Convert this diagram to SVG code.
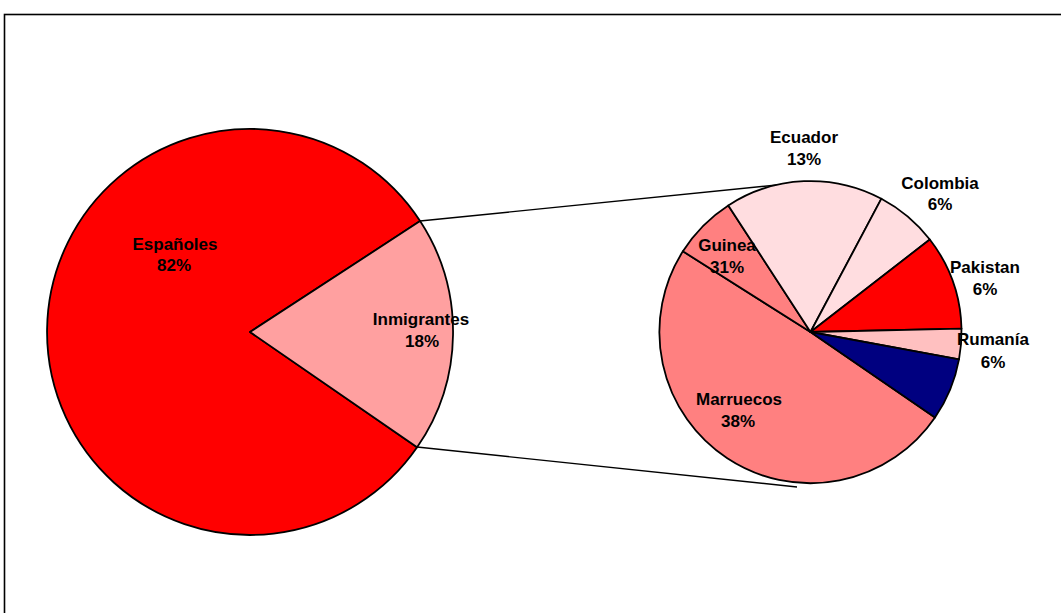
<svg xmlns="http://www.w3.org/2000/svg" width="1061" height="613" viewBox="0 0 1061 613">
<style>
.s{stroke:#000;stroke-width:1.8;stroke-linejoin:round}
.t{font-family:"Liberation Sans",Arial,sans-serif;font-weight:bold;font-size:17px;fill:#000;text-anchor:middle}
.c{stroke:#000;stroke-width:1.4;fill:none}
</style>
<rect x="0" y="0" width="1061" height="613" fill="#fff"/>
<rect x="4.5" y="14.5" width="1100" height="700" fill="none" stroke="#000" stroke-width="1.6"/>
<g id="connectors">
<line class="c" x1="420" y1="221" x2="797" y2="183"/>
<line class="c" x1="417" y1="447" x2="797" y2="487"/>
</g>
<g id="espanoles">
<path class="s" fill="#FF0000" d="M250,332 L420.1,221.1 A203,203 0 1 0 417.1,447.3 Z"/>
<text class="t" x="175" y="250">Españoles</text>
<text class="t" x="174" y="271">82%</text>
</g>
<g id="inmigrantes">
<path class="s" fill="#FFA0A0" d="M250,332 L417.1,447.3 A203,203 0 0 0 420.1,221.1 Z"/>
<text class="t" x="421" y="325">Inmigrantes</text>
<text class="t" x="422" y="347">18%</text>
</g>
<g id="marruecos">
<path class="s" fill="#FF8080" d="M810.5,332 L682.9,251.3 A151,151 0 0 0 935,417.5 Z"/>
</g>
<g id="guinea">
<path class="s" fill="#FF8080" d="M810.5,332 L728.3,205.4 A151,151 0 0 0 682.9,251.3 Z"/>
</g>
<g id="ecuador">
<path class="s" fill="#FFDDE0" d="M810.5,332 L881.4,198.7 A151,151 0 0 0 728.3,205.4 Z"/>
<text class="t" x="804" y="143">Ecuador</text>
<text class="t" x="804" y="165">13%</text>
</g>
<g id="colombia">
<path class="s" fill="#FFDDE0" d="M810.5,332 L929.8,239.5 A151,151 0 0 0 881.4,198.7 Z"/>
<text class="t" x="940" y="189">Colombia</text>
<text class="t" x="940" y="210">6%</text>
</g>
<g id="pakistan">
<path class="s" fill="#FF0000" d="M810.5,332 L961.5,328.6 A151,151 0 0 0 929.8,239.5 Z"/>
<text class="t" x="985" y="273">Pakistan</text>
<text class="t" x="985" y="295">6%</text>
</g>
<g id="rumania">
<path class="s" fill="#FFC0C0" d="M810.5,332 L959,359.3 A151,151 0 0 0 961.5,328.6 Z"/>
<text class="t" x="993" y="345">Rumanía</text>
<text class="t" x="993" y="368">6%</text>
</g>
<g id="otros">
<path class="s" fill="#000080" d="M810.5,332 L935,417.5 A151,151 0 0 0 959,359.3 Z"/>
</g>
<g id="labels-inner">
<text class="t" x="727" y="251">Guinea</text>
<text class="t" x="727" y="273">31%</text>
<text class="t" x="739" y="405">Marruecos</text>
<text class="t" x="738" y="427">38%</text>
</g>
</svg>
